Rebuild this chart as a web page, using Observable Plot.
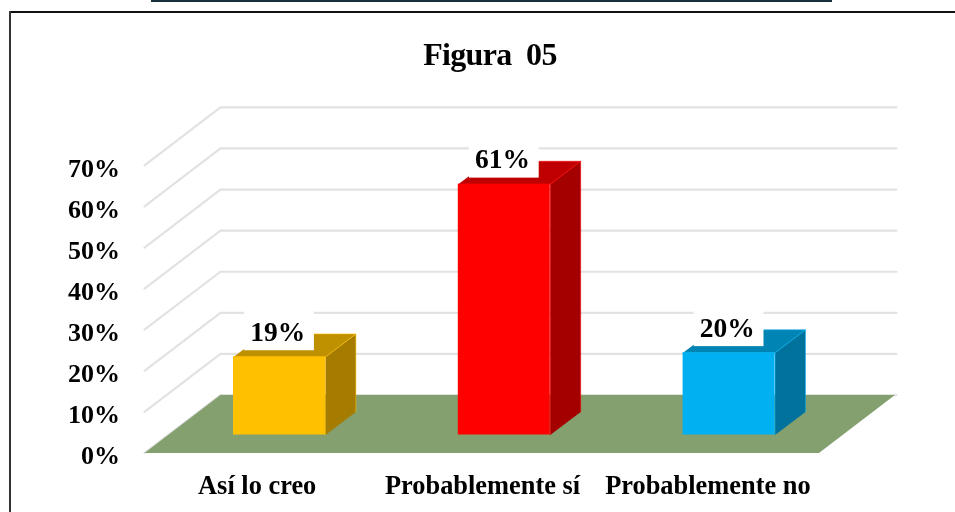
<!DOCTYPE html>
<html>
<head>
<meta charset="utf-8">
<script src="https://cdn.jsdelivr.net/npm/d3@7"></script>
<script src="https://cdn.jsdelivr.net/npm/@observablehq/plot@0.6"></script>
<style>
  html, body { margin: 0; padding: 0; background: #fff; overflow: hidden; }
  #page { position: relative; width: 955px; height: 512px; overflow: hidden; }
  #strip { position: absolute; left: 151px; top: 0; width: 681px; height: 1.5px; background: #17303c; }
  #frameTop { position: absolute; left: 9px; top: 10.5px; right: 0; height: 2px; background: #111; }
  #frameLeft { position: absolute; left: 9px; top: 10.5px; bottom: 0; width: 2px; background: #333; }
  #title { position: absolute; left: 0; top: 0; width: 980px; height: 92px; text-align: center;
           font: bold 32px/108px "Liberation Serif", serif; letter-spacing: -0.7px; white-space: pre; color: #000; filter: blur(0.3px); }
  #chart { position: absolute; left: 0; top: 92px; filter: blur(0.35px); }
  #chart svg { display: block; }
</style>
</head>
<body>
<div id="page">
  <div id="strip"></div>
  <div id="frameTop"></div>
  <div id="frameLeft"></div>
  <div id="title">Figura  05</div>
  <div id="chart"></div>
</div>
<script>
const categories = ["Así lo creo", "Probablemente sí", "Probablemente no"];
const values = [19, 61, 20];
const frontColors = ["#FFC000", "#FF0000", "#00B0F0"];
const topColors = ["#BF9000", "#C00000", "#0084B4"];
const sideColors = ["#A67C00", "#A50000", "#00729C"];
const gridValues = [0, 10, 20, 30, 40, 50, 60, 70];
const floorColor = "#84A06F";
const gridColor = "#E2E2E2";

// Oblique 3-D projection, expressed in axis units
const wallDx = 0.337, wallDy = 14.1;      // floor depth
const floorWidth = 2.993;                 // floor span along the category axis
const slotStep = 0.9975;                  // spacing of the bars
const barInset = 0.395, barWidth = 0.408; // bar position inside its category slot
const barLift = 4.38;                     // bar front sits this far up the floor
const barDx = 0.135, barDy = 5.6;         // bar depth

const grid = gridValues.flatMap(v => [
  {v, x: 0, y: v},
  {v, x: wallDx, y: v + wallDy},
  {v, x: 3 + wallDx, y: v + wallDy}
]);
const floor = [
  {x: 0, y: 0}, {x: floorWidth, y: 0},
  {x: floorWidth + wallDx, y: wallDy}, {x: wallDx, y: wallDy}
];
const bars = categories.map((c, i) => ({
  c, v: values[i],
  x1: i * slotStep + barInset, x2: i * slotStep + barInset + barWidth,
  y1: barLift, y2: barLift + values[i],
  front: frontColors[i], top: topColors[i], side: sideColors[i]
}));
const topFaces = bars.flatMap((b, i) => [
  {i, x: b.x1, y: b.y2}, {i, x: b.x2, y: b.y2},
  {i, x: b.x2 + barDx, y: b.y2 + barDy}, {i, x: b.x1 + barDx, y: b.y2 + barDy}
]);
const sideFaces = bars.flatMap((b, i) => [
  {i, x: b.x2, y: b.y1}, {i, x: b.x2, y: b.y2},
  {i, x: b.x2 + barDx, y: b.y2 + barDy}, {i, x: b.x2 + barDx, y: b.y1 + barDy}
]);
const labelW = 0.155;

const chart = Plot.plot({
  width: 955,
  height: 420,
  marginLeft: 144,
  marginRight: 59,
  marginTop: 14.85,
  marginBottom: 59.5,
  style: {fontFamily: "'Liberation Serif', serif", fontWeight: "bold", color: "#000", background: "transparent", overflow: "visible"},
  x: {domain: [0, 3 + wallDx]},
  y: {domain: [0, 70 + wallDy]},
  marks: [
    Plot.line(grid, {x: "x", y: "y", z: "v", stroke: gridColor, strokeWidth: 2.2}),
    Plot.line(floor, {x: "x", y: "y", fill: floorColor, stroke: "none"}),
    ...bars.flatMap((b, i) => [
      Plot.line(sideFaces.filter(d => d.i === i), {x: "x", y: "y", fill: b.side, stroke: b.front, strokeWidth: 0.7, strokeOpacity: 0.8}),
      Plot.line(topFaces.filter(d => d.i === i), {x: "x", y: "y", fill: b.top, stroke: b.front, strokeWidth: 0.7, strokeOpacity: 0.8}),
      Plot.rect([b], {x1: "x1", x2: "x2", y1: "y1", y2: "y2", fill: b.front})
    ]),
    Plot.rect(bars, {
      x1: d => (d.x1 + d.x2) / 2 - labelW,
      x2: d => (d.x1 + d.x2) / 2 + labelW,
      y1: d => d.y2 + 1.5,
      y2: d => d.y2 + 11,
      fill: "white"
    }),
    Plot.text(bars, {
      x: d => (d.x1 + d.x2) / 2 - 0.008,
      y: d => d.y2 + 6,
      text: d => d.v + "%",
      fontSize: 27.5,
      fontWeight: "bold",
      fill: "black"
    }),
    Plot.axisY({
      ticks: gridValues,
      tickSize: 0,
      tickPadding: 24.5,
      label: null,
      fontSize: 26,
      fontWeight: "bold",
      fill: "black",
      dy: 3,
      tickFormat: d => d + "%"
    }),
    Plot.axisX({
      ticks: [0.5, 1.5, 2.5],
      tickSize: 0,
      tickPadding: 22.5,
      label: null,
      fontSize: 26.4,
      fontWeight: "bold",
      fill: "black",
      tickFormat: d => categories[Math.floor(d)]
    })
  ]
});
document.getElementById("chart").appendChild(chart);
</script>
</body>
</html>
